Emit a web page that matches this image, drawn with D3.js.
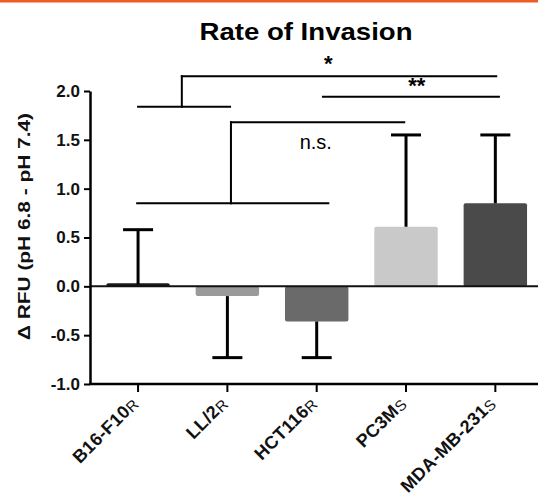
<!DOCTYPE html>
<html><head><meta charset="utf-8">
<script src="https://cdn.jsdelivr.net/npm/d3@7"></script>
<style>body{margin:0;background:#fff}svg{display:block}text{font-family:"Liberation Sans",Arial,sans-serif}</style>
</head><body>
<script>
const categories = ["B16-F10", "LL/2", "HCT116", "PC3M", "MDA-MB-231"];
const subscripts = ["R", "R", "R", "S", "S"];
const means = [0.02, -0.1, -0.36, 0.61, 0.85];
const errorEnds = [0.58, -0.73, -0.73, 1.55, 1.55];
const barColors = ["#1a1a1a", "#9a9a9a", "#6a6a6a", "#c9c9c9", "#4a4a4a"];
const yTicks = [-1.0, -0.5, 0.0, 0.5, 1.0, 1.5, 2.0];
// significance brackets: segments in [category-index, value] units
const bracketSegments = [
  [[0, 1.84], [1.03, 1.84]],
  [[0.49, 1.84], [0.49, 2.15]],
  [[0.49, 2.15], [4.01, 2.15]],
  [[2.07, 1.94], [4.04, 1.94]],
  [[1.04, 1.68], [2.98, 1.68]],
  [[1.04, 1.68], [1.04, 0.85]],
  [[-0.01, 0.85], [2.13, 0.85]]
];
const bracketLabels = [
  {t: "*", i: 2.13, v: 2.20, size: 22, w: "bold"},
  {t: "**", i: 3.12, v: 1.98, size: 22, w: "bold"},
  {t: "n.s.", i: 1.99, v: 1.41, size: 20, w: "normal"}
];

const W = 538, H = 504;
const svg = d3.select("body").append("svg").attr("width", W).attr("height", H);

svg.append("rect").attr("x", 0).attr("y", 0).attr("width", W).attr("height", 2.5).attr("fill", "#ef5a24");

svg.append("text").attr("x", 306).attr("y", 40).attr("text-anchor", "middle")
  .attr("font-size", 24).attr("font-weight", "bold")
  .attr("textLength", 213).attr("lengthAdjust", "spacingAndGlyphs").text("Rate of Invasion");

const y = d3.scaleLinear().domain([-1, 2]).range([384, 91]);
const x = d3.scaleBand().domain(categories).range([93.4, 540]).paddingInner(0.29).paddingOuter(0.145);
const bw = x.bandwidth(), step = x.step();
const xi = i => x(categories[0]) + bw / 2 + i * step;
const barH = v => Math.max(3, Math.abs(y(v) - y(0)));

// bars
svg.append("g").selectAll("rect").data(categories).join("rect")
  .attr("x", d => x(d))
  .attr("y", (d, i) => means[i] >= 0 ? y(0) - barH(means[i]) : y(0))
  .attr("width", bw)
  .attr("height", (d, i) => barH(means[i]))
  .attr("rx", 2)
  .attr("fill", (d, i) => barColors[i]);

// zero line
svg.append("line").attr("x1", 90).attr("x2", 538).attr("y1", y(0)).attr("y2", y(0))
  .attr("stroke", "#111").attr("stroke-width", 2);

// error bars
const eg = svg.append("g").attr("stroke", "#000").attr("stroke-width", 3);
categories.forEach((c, i) => {
  const cx = x(c) + bw / 2;
  eg.append("line").attr("x1", cx).attr("x2", cx).attr("y1", y(means[i])).attr("y2", y(errorEnds[i]));
  eg.append("line").attr("x1", cx - 15).attr("x2", cx + 15).attr("y1", y(errorEnds[i])).attr("y2", y(errorEnds[i]));
});

// brackets
svg.append("g").selectAll("line").data(bracketSegments).join("line")
  .attr("x1", d => xi(d[0][0])).attr("y1", d => y(d[0][1]))
  .attr("x2", d => xi(d[1][0])).attr("y2", d => y(d[1][1]))
  .attr("stroke", "#000").attr("stroke-width", 2).attr("stroke-linecap", "square");
svg.append("g").selectAll("text").data(bracketLabels).join("text")
  .attr("x", d => xi(d.i)).attr("y", d => y(d.v)).attr("text-anchor", "middle")
  .attr("font-size", d => d.size).attr("font-weight", d => d.w).text(d => d.t);

// y axis
const yAxis = svg.append("g").attr("transform", "translate(90,0)")
  .call(d3.axisLeft(y).tickValues(yTicks).tickFormat(d3.format(".1f")).tickSize(6).tickSizeOuter(0));
yAxis.select(".domain").attr("stroke", "#000").attr("stroke-width", 2.5);
yAxis.selectAll(".tick line").attr("stroke", "#000").attr("stroke-width", 2);
yAxis.selectAll(".tick text").attr("font-size", 17).attr("font-weight", "bold").attr("fill", "#111")
  .attr("x", -10).attr("font-family", "Liberation Sans, Arial, sans-serif")
  .text(d => d < 0 ? "-" + d3.format(".1f")(-d) : d3.format(".1f")(d));

// x axis
const xAxis = svg.append("g").attr("transform", "translate(0,384)")
  .call(d3.axisBottom(x).tickSize(8).tickSizeOuter(0));
xAxis.select(".domain").attr("stroke", "#000").attr("stroke-width", 2.5).attr("d", "M89,0H538");
xAxis.selectAll(".tick line").attr("stroke", "#000").attr("stroke-width", 2);
xAxis.selectAll(".tick text").remove();
xAxis.selectAll(".tick").each(function(d, i) {
  const t = d3.select(this).append("text")
    .attr("transform", "translate(1,21) rotate(-45)")
    .attr("text-anchor", "end").attr("fill", "#111")
    .attr("font-family", "Liberation Sans, Arial, sans-serif");
  t.append("tspan").attr("font-size", 18).attr("font-weight", "bold").attr("letter-spacing", 0.4).text(d);
  t.append("tspan").attr("font-size", 15).attr("font-weight", "normal").attr("dy", 1).text(subscripts[i]);
});

// y label
svg.append("text").attr("transform", "translate(30,226.5) rotate(-90)").attr("text-anchor", "middle")
  .attr("font-size", 17).attr("font-weight", "bold").attr("fill", "#111")
  .attr("textLength", 227).attr("lengthAdjust", "spacingAndGlyphs").text("Δ RFU (pH 6.8 - pH 7.4)");
</script>
</body></html>
